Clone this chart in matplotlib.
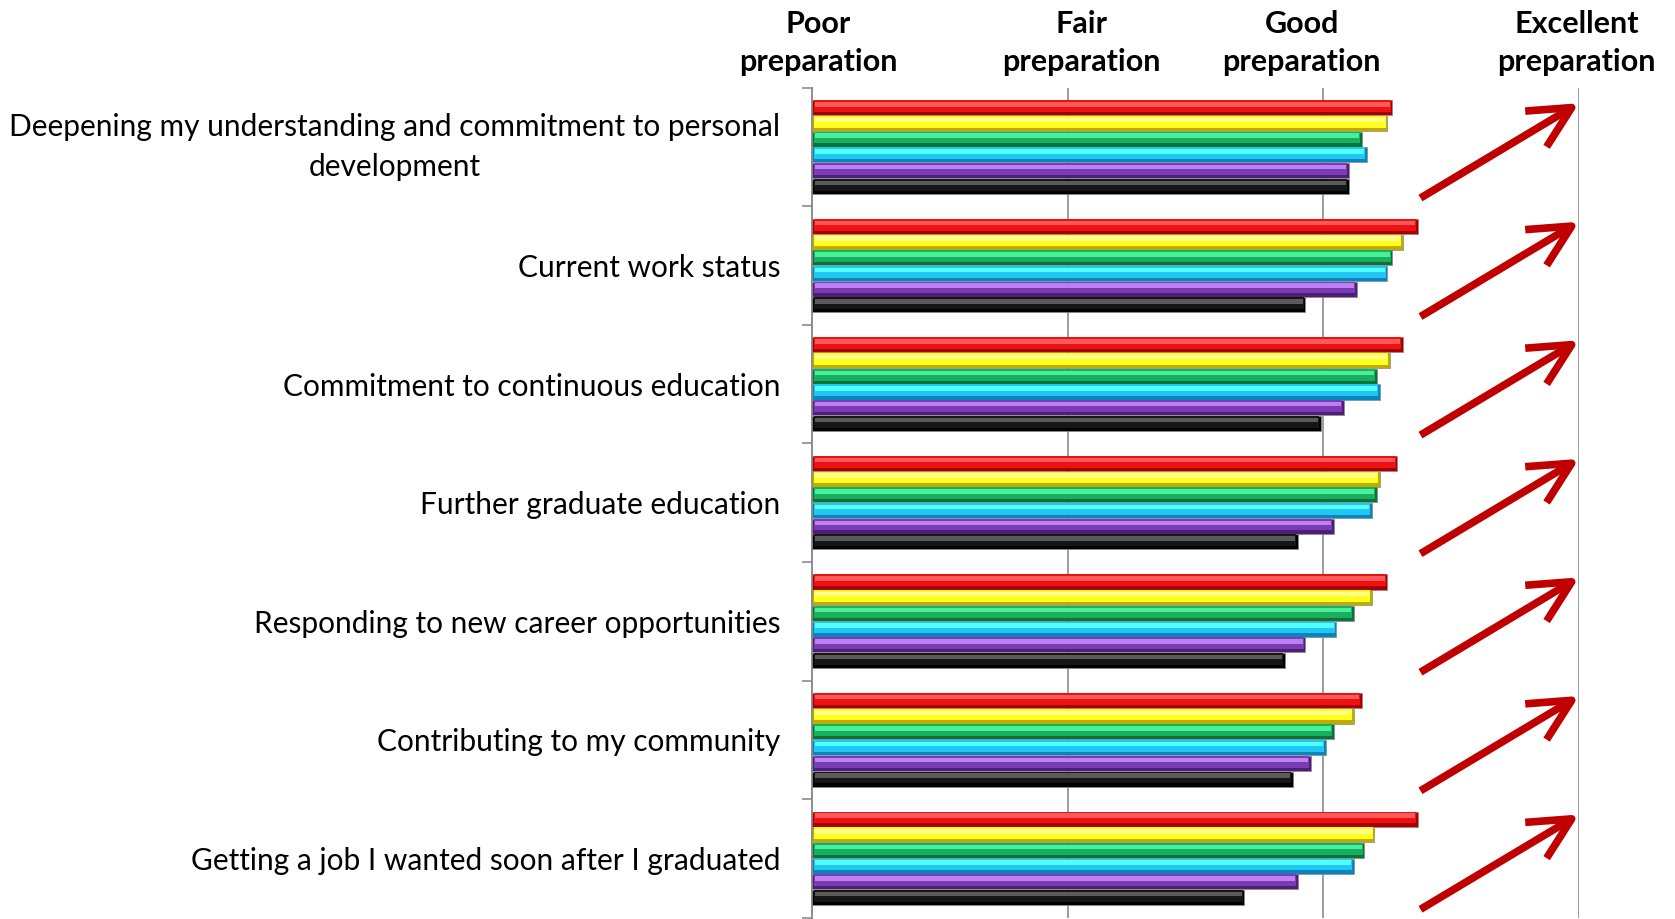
import numpy as np
import matplotlib.pyplot as plt
from matplotlib import transforms

# kategorie (shora dolu)
kategorie = [
    "Deepening my understanding and commitment to personal\ndevelopment",
    "Current work status",
    "Commitment to continuous education",
    "Further graduate education",
    "Responding to new career opportunities",
    "Contributing to my community",
    "Getting a job I wanted soon after I graduated",
]

# hodnoty jednotlivych rad (1 = Poor ... 4 = Excellent)
rada_cervena = [3.27, 3.37, 3.31, 3.29, 3.25, 3.15, 3.37]
rada_zluta = [3.25, 3.31, 3.26, 3.22, 3.19, 3.12, 3.20]
rada_zelena = [3.15, 3.27, 3.21, 3.21, 3.12, 3.04, 3.16]
rada_modra = [3.17, 3.25, 3.22, 3.19, 3.05, 3.01, 3.12]
rada_fialova = [3.10, 3.13, 3.08, 3.04, 2.93, 2.95, 2.90]
rada_cerna = [3.10, 2.93, 2.99, 2.90, 2.85, 2.88, 2.69]

hlavicky = ["Poor\npreparation", "Fair\npreparation", "Good\npreparation", "Excellent\npreparation"]
hlavicky_x = [1.025, 2.055, 2.915, 3.99]

rady = [rada_cervena, rada_zluta, rada_zelena, rada_modra, rada_fialova, rada_cerna]

# (svetla, hlavni, tmava) barva kazde rady
barvy = [
    ("#FF5a5a", "#EE1111", "#A80000"),
    ("#FFFF8a", "#FFFF1E", "#C0AC00"),
    ("#48F098", "#18B060", "#0B7238"),
    ("#50FFFF", "#22C6F2", "#0A84BC"),
    ("#BC80F4", "#7B3CB2", "#4E1E78"),
    ("#5a5a5a", "#161616", "#000000"),
]

plt.rcParams["font.family"] = ["Lato", "DejaVu Sans"]

fig = plt.figure(figsize=(16.75, 9.19), dpi=100)
ax = fig.add_axes([812 / 1675, 0.0015, (1579 - 812) / 1675, 0.903])

pocet = len(kategorie)
y = np.arange(pocet)
krok = 0.1325
vyska = 0.127

for j, hodnoty in enumerate(rady):
    svetla, hlavni, tmava = barvy[j]
    yj = y + (j - 2.5) * krok
    h = np.array(hodnoty) - 1
    ax.barh(yj, h, vyska, left=1, color=tmava, edgecolor="#8a8a8a", linewidth=0.5, zorder=3)
    ax.barh(yj - vyska * 0.11, h - 0.012, vyska * 0.78, left=1.006, color=hlavni, linewidth=0, zorder=4)
    ax.barh(yj - vyska * 0.23, h - 0.02, vyska * 0.3, left=1.01, color=svetla, linewidth=0, zorder=5)

# sipky ke "Excellent"
for i in range(pocet):
    ax.annotate("", xy=(4.0, i - 0.37), xytext=(3.38, i + 0.43),
                arrowprops=dict(arrowstyle="->,head_length=1.0,head_width=0.5",
                                color="#C00000", lw=5.5, mutation_scale=30,
                                shrinkA=0, shrinkB=0, capstyle="butt"),
                zorder=6, annotation_clip=False)

ax.set_xlim(1, 4)
ax.set_ylim(pocet - 0.5, -0.5)

ax.set_xticks([2, 3, 4])
ax.tick_params(axis="x", length=0, labelbottom=False)
ax.grid(axis="x", color="#8c8c8c", linewidth=1.2, zorder=0)
ax.set_axisbelow(True)

ax.set_yticks(y)
popisky = ax.set_yticklabels(kategorie, fontsize=21.5, multialignment="center", linespacing=1.5)
# viceradkovy popisek vycentrovat cely
for p in popisky:
    if "\n" in p.get_text():
        p.set_va("center")
ax.set_yticks(np.arange(-0.5, pocet, 1), minor=True)
ax.tick_params(axis="y", which="major", length=0, pad=23)
ax.tick_params(axis="y", which="minor", length=7, width=1.2, color="#8c8c8c", direction="out")

for s in ["top", "right", "bottom"]:
    ax.spines[s].set_visible(False)
ax.spines["left"].set_color("#8c8c8c")
ax.spines["left"].set_linewidth(1.4)

# popisky nahore
trans = transforms.blended_transform_factory(ax.transData, ax.transAxes)
for text, x in zip(hlavicky, hlavicky_x):
    ax.text(x, 1.054, text, transform=trans, ha="center", va="center",
            fontsize=22, fontweight="bold", linespacing=1.45)

fig.savefig("out.png", dpi=100)
